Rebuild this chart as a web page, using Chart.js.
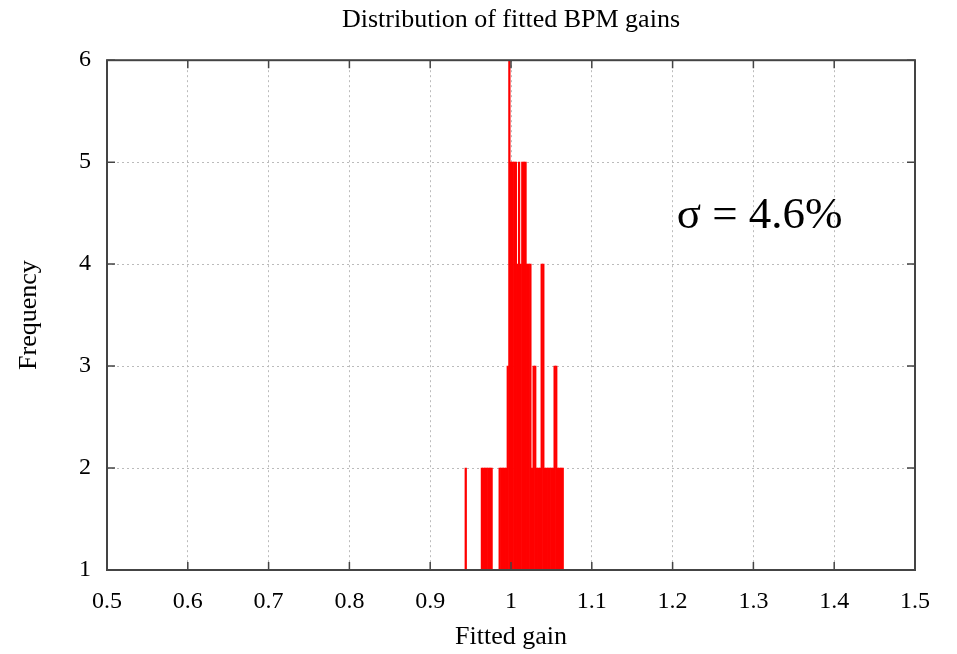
<!DOCTYPE html>
<html>
<head>
<meta charset="utf-8">
<script src="https://cdn.jsdelivr.net/npm/chart.js@4.4.1/dist/chart.umd.min.js"></script>
<style>
  html, body { margin: 0; padding: 0; background: #fff; }
  #wrap { width: 957px; height: 654px; }
</style>
</head>
<body>
<div id="wrap"><canvas id="hist"></canvas></div>
<script>
// histogram of fitted gains (bin centre -> count)
const gains = [
  0.944,
  0.964, 0.966, 0.968, 0.970, 0.972, 0.974, 0.976,
  0.986, 0.988, 0.990, 0.992, 0.994, 0.996, 0.998,
  1.000, 1.002, 1.004, 1.006, 1.008, 1.010, 1.012, 1.014, 1.016, 1.018,
  1.020, 1.022, 1.024, 1.026, 1.028, 1.030, 1.032, 1.034, 1.036, 1.038,
  1.040, 1.042, 1.044, 1.046, 1.048, 1.050, 1.052, 1.054, 1.056, 1.058,
  1.060, 1.062, 1.064
];
const counts = [
  2,
  2, 2, 2, 2, 2, 2, 2,
  2, 2, 2, 2, 2, 3, 6,
  5, 5, 5, 5, 4, 5, 4, 5, 5, 5,
  4, 4, 4, 2, 3, 3, 2, 2, 2, 4,
  4, 2, 2, 2, 2, 2, 2, 3, 3, 2,
  2, 2, 2
];
const xTicks = [0.5, 0.6, 0.7, 0.8, 0.9, 1, 1.1, 1.2, 1.3, 1.4, 1.5];
const yTicks = [1, 2, 3, 4, 5, 6];
const note = "σ = 4.6%";
const noteAt = { x: 1.205, y: 4.47 };

const serif = "'Liberation Serif', 'DejaVu Serif', serif";

// gnuplot-style frame, inward ticks on all sides, and the sigma label
const framePlugin = {
  id: "frame",
  afterDraw(chart) {
    const { ctx, chartArea: a, scales: { x, y } } = chart;
    ctx.save();
    ctx.strokeStyle = "#444";
    ctx.lineWidth = 1.5;
    ctx.beginPath();
    xTicks.forEach(v => {
      const px = x.getPixelForValue(v);
      ctx.moveTo(px, a.bottom); ctx.lineTo(px, a.bottom - 8);
      ctx.moveTo(px, a.top); ctx.lineTo(px, a.top + 8);
    });
    yTicks.forEach(v => {
      const py = y.getPixelForValue(v);
      ctx.moveTo(a.left, py); ctx.lineTo(a.left + 8, py);
      ctx.moveTo(a.right, py); ctx.lineTo(a.right - 8, py);
    });
    ctx.stroke();
    ctx.lineWidth = 2;
    ctx.strokeRect(a.left, a.top, a.right - a.left, a.bottom - a.top);
    ctx.fillStyle = "#000";
    ctx.font = "45px " + serif;
    ctx.textAlign = "left";
    ctx.textBaseline = "middle";
    ctx.fillText(note, x.getPixelForValue(noteAt.x), y.getPixelForValue(noteAt.y));
    ctx.restore();
  }
};

new Chart(document.getElementById("hist"), {
  type: "bar",
  data: {
    datasets: [{
      data: gains.map((g, i) => ({ x: g, y: counts[i] })),
      backgroundColor: "#ff0000",
      borderWidth: 0,
      barPercentage: 1,
      categoryPercentage: 1,
      base: 1
    }]
  },
  options: {
    responsive: true,
    maintainAspectRatio: false,
    animation: false,
    layout: { padding: { left: 0, right: 42, top: 0, bottom: 0 } },
    plugins: {
      legend: { display: false },
      tooltip: { enabled: false },
      title: {
        display: true,
        fullSize: false,
        text: "Distribution of fitted BPM gains",
        color: "#000",
        font: { family: serif, size: 26, weight: "normal" },
        padding: { top: 5, bottom: 24 }
      }
    },
    scales: {
      x: {
        type: "linear",
        min: 0.5,
        max: 1.5,
        offset: false,
        afterBuildTicks: s => { s.ticks = xTicks.map(v => ({ value: v })); },
        afterFit: s => { s.height = 84; },
        ticks: {
          color: "#000",
          font: { family: serif, size: 24 },
          padding: 17,
          maxRotation: 0,
          callback: v => String(v)
        },
        grid: { color: "#bbb", lineWidth: 1, drawTicks: false, offset: false },
        border: { display: false, dash: [2, 3] },
        title: {
          display: true,
          text: "Fitted gain",
          color: "#000",
          font: { family: serif, size: 26 },
          padding: { top: 0, bottom: 1 }
        }
      },
      y: {
        min: 1,
        max: 6,
        afterBuildTicks: s => { s.ticks = yTicks.map(v => ({ value: v })); },
        afterFit: s => { s.width = 107; },
        ticks: {
          color: "#000",
          font: { family: serif, size: 24 },
          padding: 16
        },
        grid: { color: "#bbb", lineWidth: 1, drawTicks: false },
        border: { display: false, dash: [2, 3] },
        title: {
          display: true,
          text: "Frequency",
          color: "#000",
          font: { family: serif, size: 26 },
          padding: { top: 14, bottom: 0 }
        }
      }
    }
  },
  plugins: [framePlugin]
});
</script>
</body>
</html>
